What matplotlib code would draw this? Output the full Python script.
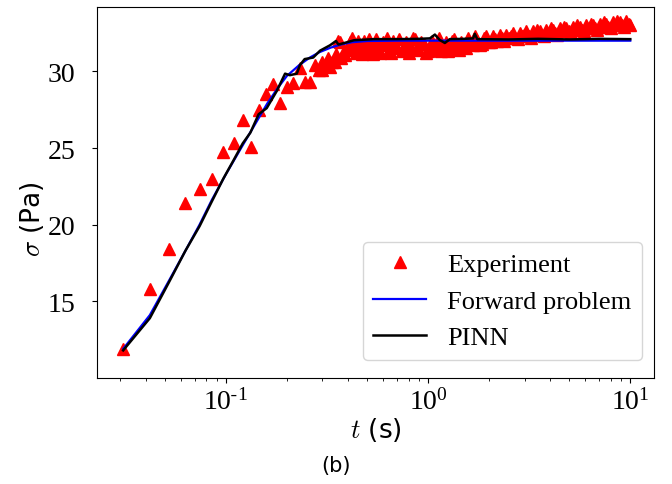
import matplotlib
matplotlib.use("Agg")
import matplotlib.pyplot as plt
from matplotlib.ticker import FuncFormatter
import numpy as np

plt.rcParams['font.family'] = 'Liberation Serif'
plt.rcParams['mathtext.fontset'] = 'cm'
plt.rcParams['axes.unicode_minus'] = False

# experiment data
t_exp = [0.031, 0.042, 0.052, 0.063, 0.074, 0.085, 0.097, 0.109, 0.121, 0.133,
         0.146, 0.158, 0.171, 0.184, 0.200, 0.215, 0.232, 0.246, 0.260, 0.276,
         0.29, 0.297, 0.30, 0.31, 0.32, 0.327, 0.335, 0.347, 0.35, 0.358,
         0.365, 0.372, 0.38, 0.388, 0.40, 0.41, 0.42, 0.43, 0.44, 0.45,
         0.46, 0.47, 0.48, 0.49, 0.50, 0.51, 0.52, 0.535, 0.55, 0.565,
         0.58, 0.595, 0.61, 0.625, 0.64, 0.655, 0.67, 0.685, 0.70, 0.72,
         0.74, 0.76, 0.78, 0.80, 0.82, 0.84, 0.86, 0.88, 0.90, 0.925,
         0.95, 0.975, 1.0, 1.025, 1.05, 1.075, 1.1, 1.13, 1.16, 1.19,
         1.22, 1.25, 1.28, 1.31, 1.35, 1.38, 1.42, 1.46, 1.5, 1.54,
         1.58, 1.62, 1.66, 1.70, 1.75, 1.8, 1.84, 1.89, 1.94, 1.99,
         2.04, 2.1, 2.15, 2.2, 2.26, 2.32, 2.38, 2.44, 2.5, 2.56,
         2.63, 2.7, 2.77, 2.84, 2.91, 2.98, 3.06, 3.14, 3.22, 3.3,
         3.39, 3.47, 3.56, 3.65, 3.75, 3.85, 3.94, 4.05, 4.15, 4.25,
         4.36, 4.47, 4.59, 4.71, 4.83, 4.95, 5.08, 5.21, 5.34, 5.48,
         5.62, 5.76, 5.91, 6.06, 6.22, 6.38, 6.54, 6.71, 6.88, 7.06,
         7.24, 7.42, 7.61, 7.8, 8.0, 8.21, 8.42, 8.64, 8.86, 9.09,
         9.32, 9.56, 9.8, 10.0]
sigma_exp = [11.87, 15.8, 18.4, 21.4, 22.3, 23.0, 24.75, 25.3, 26.85, 25.05,
             27.46, 28.5, 29.2, 27.96, 28.98, 29.27, 30.22, 29.31, 29.31, 30.44,
             30.1, 30.07, 30.6, 30.4, 30.9, 30.3, 30.6, 30.6, 31.1, 32.0,
             31.9, 30.9, 31.2, 31.05, 31.5, 31.9, 32.2, 31.4, 31.2, 32.0,
             31.6, 31.15, 32.0, 31.6, 31.3, 32.1, 31.8, 31.15, 32.1, 31.5,
             31.2, 31.9, 31.7, 32.2, 31.4, 31.2, 32.0, 31.7, 31.5, 32.1,
             31.3, 31.6, 31.9, 31.2, 31.6, 32.2, 32.1, 31.5, 31.4, 31.9,
             31.8, 31.2, 31.3, 31.6, 32.0, 31.4, 31.7, 32.2, 31.3, 31.6,
             31.9, 31.3, 31.5, 32.0, 32.1, 31.5, 31.4, 31.9, 31.8, 31.5,
             32.2, 31.8, 31.7, 32.3, 32.0, 31.7, 31.8, 32.2, 32.3, 31.9,
             31.9, 32.3, 32.1, 32.0, 32.4, 32.2, 32.0, 32.4, 32.2, 32.3,
             32.5, 32.2, 32.1, 32.5, 32.3, 32.4, 32.6, 32.3, 32.2, 32.6,
             32.4, 32.7, 32.6, 32.4, 32.3, 32.7, 32.5, 32.8, 32.7, 32.5,
             32.4, 32.8, 32.6, 32.9, 32.8, 32.6, 32.5, 32.9, 32.7, 33.0,
             32.9, 32.7, 32.6, 33.0, 32.8, 33.1, 33.0, 32.8, 32.7, 33.1,
             32.9, 33.2, 33.1, 32.9, 32.8, 33.2, 33.0, 33.3, 33.2, 33.0,
             32.9, 33.3, 33.1, 33.0]

# forward problem
t_fwd = [0.031, 0.042, 0.052, 0.063, 0.074, 0.085, 0.10, 0.12, 0.14, 0.16,
         0.18, 0.20, 0.23, 0.26, 0.29, 0.33, 0.37, 0.42, 0.5, 0.7, 1.0, 10.0]
sigma_fwd = [11.9, 14.1, 16.3, 18.3, 20.0, 21.6, 23.3, 25.1, 26.6, 27.9,
             28.9, 29.7, 30.4, 30.9, 31.25, 31.55, 31.75, 31.9, 31.98, 32.0, 32.0, 32.0]

# PINN
t_pinn = [0.031, 0.042, 0.052, 0.063, 0.074, 0.085, 0.097, 0.109, 0.121, 0.132,
          0.145, 0.159, 0.178, 0.196, 0.207, 0.224, 0.232, 0.245, 0.27, 0.292,
          0.327, 0.35, 0.36, 0.39, 0.43, 0.54, 0.7, 0.9, 1.02, 1.08,
          1.14, 1.21, 1.28, 1.5, 1.67, 1.70, 1.75, 2.5, 3.5, 5.0, 7.0, 10.0]
sigma_pinn = [11.8, 13.9, 16.2, 18.3, 19.9, 21.5, 23.0, 24.2, 25.3, 26.0,
              27.2, 27.6, 28.7, 29.85, 29.75, 29.85, 30.4, 30.8, 30.9, 31.35,
              31.7, 31.98, 31.75, 31.87, 32.03, 32.1, 32.1, 32.12, 32.15, 32.4,
              32.05, 31.85, 32.1, 32.12, 32.15, 32.45, 32.1, 32.08, 32.12, 32.08, 32.12, 32.1]


#log tick labels with a plain hyphen like the original
def pow10(x, pos):
    e = int(round(np.log10(x)))
    if e < 0:
        return r'$\mathdefault{10^{\text{-}%d}}$' % (-e)
    return r'$\mathdefault{10^{%d}}$' % e


fig = plt.figure(figsize=(6.72, 4.85), dpi=100)
ax = fig.add_axes([0.1443, 0.2186, 0.8289, 0.765])

ax.plot(t_exp, sigma_exp, '^', color='red', markersize=9, label='Experiment')
ax.plot(t_fwd, sigma_fwd, color='blue', lw=1.6, label='Forward problem')
ax.plot(t_pinn, sigma_pinn, color='black', lw=1.8, label='PINN')

ax.set_xscale('log')
ax.set_xlim(0.0230, 13.1)
ax.set_ylim(10.0, 34.2)
ax.set_yticks([15, 20, 25, 30])
ax.xaxis.set_major_formatter(FuncFormatter(pow10))
ax.tick_params(labelsize=20)
ax.tick_params(axis='y', pad=12)

ax.set_xlabel(r'$t$ (s)', fontsize=19, family='DejaVu Sans')
ax.set_ylabel(r'$\sigma$ (Pa)', fontsize=19, family='DejaVu Sans')
ax.xaxis.set_label_coords(0.5, -0.1)
ax.yaxis.set_label_coords(-0.092, 0.43)

ax.legend(loc='lower right', fontsize=19, numpoints=1,
          bbox_to_anchor=(0.9785, 0.0485), borderaxespad=0)

fig.text(0.5, 0.039, '(b)', ha='center', va='center', fontsize=15, family='DejaVu Sans')

fig.savefig('out.png', dpi=100)
